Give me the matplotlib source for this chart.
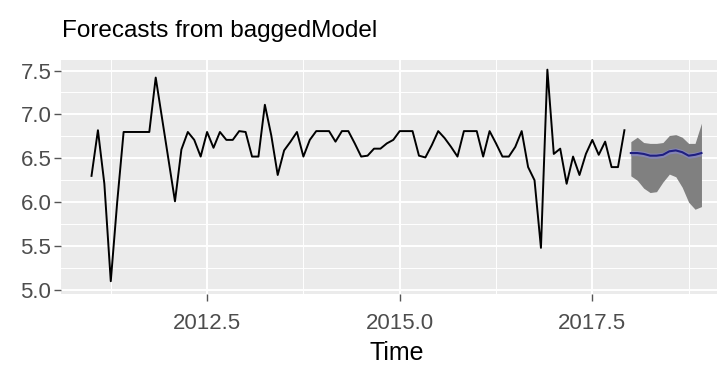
import numpy as np
import matplotlib
matplotlib.use("Agg")
import matplotlib.pyplot as plt
from matplotlib.ticker import MultipleLocator

plt.rcParams['font.family'] = ['Liberation Sans', 'DejaVu Sans']

# monthly series, Jan 2011 .. Dec 2017
start_year = 2011.0
observed = [
    6.30, 6.82, 6.21, 5.10, 6.00, 6.80, 6.80, 6.80, 6.80, 6.80,
    7.42, 6.95, 6.48, 6.01, 6.60, 6.80, 6.71, 6.52, 6.80, 6.62,
    6.80, 6.71, 6.71, 6.81, 6.80, 6.52, 6.52, 7.11, 6.76, 6.31,
    6.59, 6.69, 6.80, 6.52, 6.71, 6.81, 6.81, 6.81, 6.69, 6.81,
    6.81, 6.67, 6.52, 6.53, 6.61, 6.61, 6.67, 6.71, 6.81, 6.81,
    6.81, 6.53, 6.51, 6.65, 6.81, 6.73, 6.63, 6.52, 6.81, 6.81,
    6.81, 6.52, 6.81, 6.67, 6.52, 6.52, 6.63, 6.81, 6.40, 6.25,
    5.48, 7.51, 6.55, 6.61, 6.21, 6.52, 6.31, 6.55, 6.71, 6.54,
    6.69, 6.40, 6.40, 6.82,
]

# 12-month forecast from baggedModel, Jan 2018 .. Dec 2018
fc_mean = [6.56, 6.56, 6.55, 6.53, 6.53, 6.54, 6.58, 6.59, 6.57, 6.53, 6.54, 6.56]
fc_upper = [6.69, 6.74, 6.68, 6.67, 6.67, 6.68, 6.76, 6.77, 6.74, 6.67, 6.67, 6.90]
fc_lower = [6.30, 6.25, 6.16, 6.11, 6.12, 6.23, 6.32, 6.29, 6.17, 6.00, 5.92, 5.95]

x_obs = start_year + np.arange(len(observed)) / 12
x_fc = start_year + (len(observed) + np.arange(len(fc_mean))) / 12

fig = plt.figure(figsize=(7.17, 3.65), dpi=100)
ax = fig.add_axes([61 / 717, 71.5 / 365, 671 / 717, 233.5 / 365])
ax.set_facecolor('#EBEBEB')

# ggplot-like grid
ax.xaxis.set_major_locator(MultipleLocator(2.5))
ax.xaxis.set_minor_locator(MultipleLocator(1.25))
ax.yaxis.set_major_locator(MultipleLocator(0.5))
ax.yaxis.set_minor_locator(MultipleLocator(0.25))
ax.grid(which='major', color='white', lw=1.4)
ax.grid(which='minor', color='white', lw=0.7)
ax.set_axisbelow(True)
for s in ax.spines.values():
    s.set_visible(False)

ax.plot(x_obs, observed, color='black', lw=1.4)
ax.fill_between(x_fc, fc_lower, fc_upper, color='#808080', lw=0)
ax.fill_between(x_fc, np.array(fc_mean) - 0.03, np.array(fc_mean) + 0.03,
                color='#8585b5', lw=0)
ax.plot(x_fc, fc_mean, color='#1f1f80', lw=1.5)

ax.set_xlim(2010.604, 2019.313)
ax.set_ylim(4.96, 7.62)

ax.tick_params(which='major', length=5, width=1, color='#555555',
               labelcolor='#4D4D4D', labelsize=16)
ax.tick_params(axis='x', which='major', pad=9)
ax.tick_params(axis='y', which='major', pad=2)
ax.tick_params(which='minor', length=0)
ax.xaxis.set_major_formatter(plt.FuncFormatter(lambda v, p: f"{v:.1f}"))
ax.yaxis.set_major_formatter(plt.FuncFormatter(lambda v, p: f"{v:.1f}"))

ax.set_xlabel('Time', fontsize=18, color='black', labelpad=5)
fig.text(62 / 717, 1 - 31 / 365, 'Forecasts from baggedModel', fontsize=17.5,
         color='black', ha='left', va='center')

fig.savefig('out.png', dpi=100)
